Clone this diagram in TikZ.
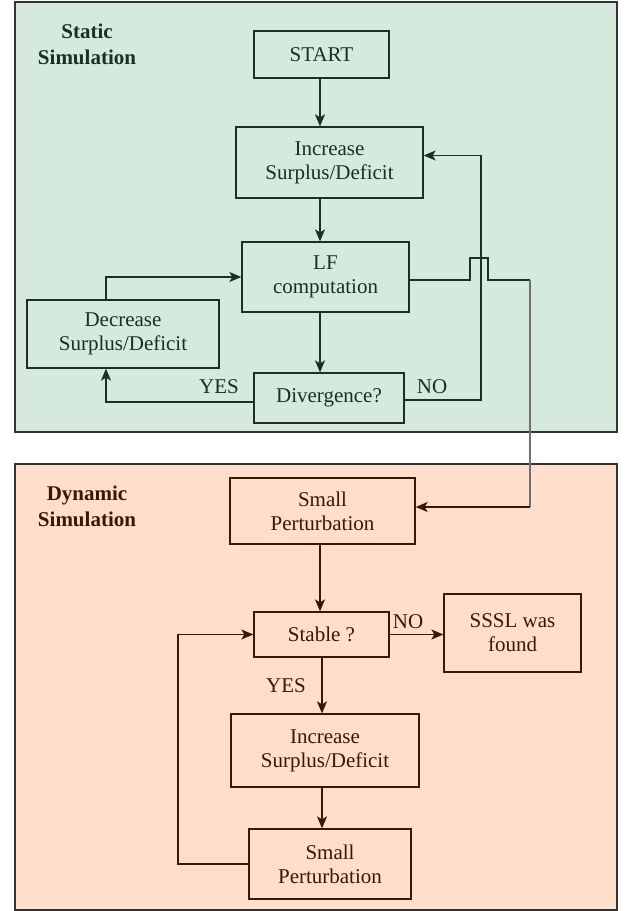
\documentclass[tikz,border=0pt]{standalone}
\usepackage{fontspec}
\setmainfont{Liberation Serif}
\newfontfamily\boxface{Liberation Serif}
\usetikzlibrary{arrows.meta,calc}
\definecolor{staticbg}{HTML}{D5E9DD}
\definecolor{dynbg}{HTML}{FDDFCB}
\definecolor{staticln}{HTML}{1A3022}
\definecolor{dynln}{HTML}{3A1806}
\definecolor{frameln}{HTML}{333333}
\definecolor{crossln}{HTML}{707070}
\begin{document}
\begin{tikzpicture}[x=1pt,y=-1pt,
  box/.style={draw, line width=1.3pt, inner sep=0pt, align=center,
              font=\boxface\fontsize{21}{24}\selectfont},
  wire/.style={line width=1.3pt},
  arr/.style={wire, -{Stealth[length=12pt,width=10pt,inset=3pt]}},
  lbl/.style={font=\boxface\fontsize{21}{24}\selectfont, inner sep=0pt},
  title/.style={font=\boxface\bfseries\fontsize{21}{26}\selectfont, align=center, inner sep=0pt},
  panel/.style={line width=2pt, draw=frameln}]

\useasboundingbox (0,0) rectangle (625,911);
\fill[white] (0,0) rectangle (625,911);

% panels
\draw[panel, fill=staticbg] (15,2) rectangle (617,432);
\draw[panel, fill=dynbg] (15,464) rectangle (617,910);

% column coordinates
\coordinate (colA) at (320,0);
\coordinate (colB) at (322,0);
\coordinate (decx) at (106,0);
\coordinate (nox) at (481,0);
\coordinate (loopx) at (178,0);

% static simulation
\begin{scope}[draw=staticln, text=staticln, color=staticln]
  \node[title] (stitle) at (87,44) {Static\\Simulation};
  \node[box, minimum width=135pt, minimum height=47pt] (start) at (321.5,54.5) {START};
  \node[box, minimum width=187pt, minimum height=71pt] (inc1) at (329.5,162.5) {Increase\\Surplus/Deficit};
  \node[box, minimum width=167pt, minimum height=70pt] (lf) at (325.5,277) {LF\\computation};
  \node[box, minimum width=192pt, minimum height=68pt] (dec) at (123,334) {Decrease\\Surplus/Deficit};
  \node[box, minimum width=150pt, minimum height=50pt] (div) at (329,398) {Divergence?};
  \node[lbl] (yes1) at (219,387) {YES};
  \node[lbl] (no1) at (432,387) {NO};

  \draw[arr] (start.south -| colA) -- (inc1.north -| colA);
  \draw[arr] (inc1.south -| colA) -- (lf.north -| colA);
  \draw[arr] (lf.south -| colA) -- (div.north -| colA);
  \draw[arr] (dec.north -| decx) |- (lf.west);
  \draw[arr] ([yshift=-4pt]div.west) -| (dec.south -| decx);
  \draw[arr] ([yshift=-2pt]div.east) -| ($(nox |- inc1.east)+(0,-7)$) -- ($(inc1.east)+(0,-7)$);
\end{scope}

% dynamic simulation
\begin{scope}[draw=dynln, text=dynln, color=dynln]
  \node[title] (dtitle) at (87,506) {Dynamic\\Simulation};
  \node[box, minimum width=185pt, minimum height=66pt] (sp1) at (322.5,511) {Small\\Perturbation};
  \node[box, minimum width=135pt, minimum height=45pt] (stable) at (321.5,634.5) {Stable ?};
  \node[box, minimum width=137pt, minimum height=78pt] (sssl) at (512.5,633) {SSSL was\\found};
  \node[box, minimum width=188pt, minimum height=73pt] (inc2) at (325,750.5) {Increase\\Surplus/Deficit};
  \node[box, minimum width=162pt, minimum height=70pt] (sp2) at (330,864) {Small\\Perturbation};
  \node[lbl] (no2) at (408,622) {NO};
  \node[lbl] (yes2) at (286,686) {YES};

  \draw[arr] (sp1.south -| colA) -- (stable.north -| colA);
  \draw[arr] (stable.east) -- (sssl.west |- stable.east);
  \draw[arr] (stable.south -| colB) -- (inc2.north -| colB);
  \draw[arr] (inc2.south -| colB) -- (sp2.north -| colB);
  \draw[arr] (sp2.west) -| (loopx |- stable.west) -- (stable.west);
\end{scope}

% link from the load-flow result down to the dynamic part, hopping over the NO return line
\coordinate (hopL) at (470,280);
\coordinate (hopR) at (488,280);
\coordinate (drop) at (530,280);
\coordinate (turn) at (530,507);
\draw[wire, staticln] (lf.east |- hopL) -- (hopL) -- ++(0,-22) -| (hopR) -- (drop);
\draw[wire, crossln] (drop) -- (turn);
\draw[arr, dynln] (turn) -- (sp1.east |- turn);
\end{tikzpicture}
\end{document}
